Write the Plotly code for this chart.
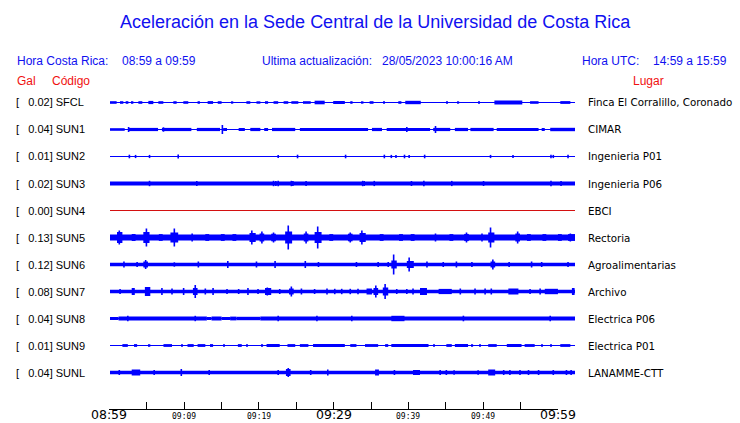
import plotly.graph_objects as go

# ---------------- data ----------------
CODES = ["SFCL", "SUN1", "SUN2", "SUN3", "SUN4", "SUN5", "SUN6", "SUN7", "SUN8", "SUN9", "SUNL"]
GAL = [0.02, 0.04, 0.01, 0.02, 0.00, 0.13, 0.12, 0.08, 0.04, 0.01, 0.04]
PLACES = ["Finca El Corralillo, Coronado", "CIMAR", "Ingenieria P01", "Ingenieria P06", "EBCI",
          "Rectoria", "Agroalimentarias", "Archivo", "Electrica P06", "Electrica P01", "LANAMME-CTT"]
TRACE_COLORS = ["blue"] * 4 + ["#d41010"] + ["blue"] * 6

# time axis (minutes after 08:59)
TICK_MIN = [0, 5, 10, 15, 20, 25, 30, 35, 40, 45, 50, 55, 60]
TICK_LABELS = ["08:59", "", "09:09", "", "09:19", "", "09:29", "", "09:39", "", "09:49", "", "09:59"]

# envelope segments per station: [start_min, end_min, half-amplitude (counts)]
SEG_SFCL = [[0, 0.86, 1.3], [1.29, 1.72, 1.3], [2.02, 2.37, 1.3], [2.71, 3.01, 1.3], [3.66, 4.17, 1.3],
            [4.95, 5.59, 1.6], [6.24, 6.88, 1.3], [8.17, 8.6, 1.3], [9.46, 10.1, 1.3], [11.3, 11.6, 1.3],
            [12.6, 13.3, 1.4], [13.9, 14.4, 1.3], [15.7, 15.9, 1.2], [17.6, 18.1, 1.3], [18.9, 19.4, 1.2],
            [20.0, 20.4, 1.3], [21.1, 21.7, 1.3], [22.4, 23.0, 1.3], [23.4, 24.3, 1.3], [24.9, 25.9, 1.3],
            [26.4, 27.7, 1.8], [28.8, 30.3, 1.5], [31.0, 31.3, 1.3], [32.5, 32.7, 1.2], [33.5, 34.0, 1.3],
            [35.3, 35.45, 1.2], [37.2, 37.6, 1.3], [38.1, 40.1, 1.7], [43.4, 43.6, 1.2], [44.9, 45.05, 1.2],
            [47.5, 47.65, 1.2], [49.6, 53.2, 2.0], [54.2, 55.3, 1.3], [58.1, 59.4, 1.4]]
SEG_SUN1 = [[0, 1.9, 1.3], [2.4, 6.2, 1.6], [6.7, 10.5, 1.6], [11.2, 14.2, 1.6], [14.6, 15.1, 1.5],
            [16.6, 17.4, 1.5], [18.1, 19.4, 1.6], [19.9, 20.4, 1.5], [20.9, 23.9, 1.6], [24.5, 33.3, 1.6],
            [33.8, 35.1, 1.6], [35.7, 41.3, 1.6], [41.7, 43.9, 1.6], [44.5, 46.2, 1.6], [46.5, 49.5, 1.6],
            [49.9, 55.3, 1.6], [55.7, 56.1, 1.5], [56.8, 60, 1.7]]
SEG_SUN2 = []
SEG_SUN3 = [[0, 60, 1.9]]
SEG_SUN4 = []
SEG_SUN5 = [[0, 60, 2.9], [0.9, 1.6, 5.5], [4.3, 5.1, 5.5], [7.8, 8.8, 5.0], [18.0, 18.8, 4.5],
            [19.3, 19.9, 4.0], [20.8, 21.4, 3.8], [22.6, 23.5, 6.0], [25.0, 25.6, 4.0], [26.4, 27.3, 5.5],
            [30.7, 31.3, 3.8], [32.2, 33.0, 4.5], [45.7, 46.3, 3.6], [48.8, 49.6, 5.0], [52.3, 52.9, 4.0],
            [2.8, 3.3, 3.5], [6.3, 6.8, 3.4], [12.3, 12.8, 3.4], [14.3, 14.8, 3.4], [15.8, 16.3, 3.4],
            [28.3, 28.8, 3.4], [34.8, 35.3, 3.4], [37.3, 37.8, 3.4], [38.8, 39.3, 3.4], [43.8, 44.3, 3.4],
            [53.8, 54.3, 3.4], [55.8, 56.3, 3.4], [57.8, 58.3, 3.4], [59.1, 60, 3.4]]
SEG_SUN6 = [[0, 60, 1.7], [36.3, 37.0, 4.0], [38.3, 39.2, 3.5], [4.3, 4.9, 3.0], [49.1, 49.7, 3.0]]
SEG_SUN7 = [[0, 60, 1.7], [2.8, 3.2, 3.5], [4.5, 5.2, 4.5], [10.7, 11.3, 3.5], [20.0, 20.8, 3.5],
            [23.1, 23.7, 3.0], [33.1, 33.8, 3.0], [34.0, 34.6, 3.5], [35.2, 35.9, 4.0], [40.0, 40.9, 3.5],
            [42.4, 44.1, 2.6], [51.4, 52.7, 3.0], [56.1, 57.8, 2.7], [59.6, 59.95, 3.5]]
SEG_SUN8 = [[0, 1.1, 1.5], [1.1, 12.5, 2.0], [12.5, 13.1, 1.5], [13.1, 14.4, 2.0], [14.4, 15.5, 1.5],
            [15.5, 16.3, 1.9], [16.3, 19.4, 1.7], [19.4, 60, 2.0], [36.3, 38.0, 2.7]]
SEG_SUN9 = [[1.6, 2.3, 1.4], [3.1, 3.5, 1.4], [5.0, 5.2, 1.3], [6.9, 8.0, 1.4], [9.2, 9.35, 1.3],
            [10.0, 10.8, 1.4], [11.3, 12.3, 1.4], [12.9, 13.3, 1.4], [14.6, 14.75, 1.3], [16.5, 17.0, 1.4],
            [17.6, 17.75, 1.3], [19.6, 19.75, 1.3], [20.2, 21.9, 1.5], [22.9, 23.9, 1.4], [24.5, 25.6, 1.4],
            [26.2, 30.3, 1.5], [31.0, 31.8, 1.4], [32.9, 34.6, 1.4], [35.5, 35.9, 1.4], [36.3, 41.1, 1.5],
            [41.7, 41.85, 1.3], [43.4, 44.1, 1.4], [44.5, 46.2, 1.5], [46.7, 46.85, 1.3], [47.7, 47.85, 1.3],
            [48.8, 49.9, 1.4], [51.2, 53.1, 1.5], [53.5, 54.8, 1.4], [55.7, 55.85, 1.3], [56.8, 56.95, 1.3],
            [58.1, 59.4, 1.4]]
SEG_SUNL = [[0, 60, 1.7], [2.8, 3.9, 3.0], [22.7, 23.3, 3.5], [34.2, 34.7, 3.0], [39.1, 40.0, 2.5],
            [48.8, 49.7, 3.0]]

# individual peaks per station: [minute, half-amplitude (counts)]
PK_SFCL = []
PK_SUN1 = [[14.5, 4.5], [42.0, 3.5], [38.3, 2.6], [2.4, 2.5], [6.9, 2.2]]
PK_SUN2 = [[2.5, 1.8], [3.3, 1.6], [5.1, 1.6], [8.8, 2.0], [21.7, 1.6], [24.2, 1.8], [30.4, 1.8],
           [35.4, 1.8], [36.3, 1.6], [36.9, 1.6], [38.0, 1.8], [38.6, 1.6], [40.6, 1.8], [49.1, 1.6],
           [52.0, 1.6], [56.9, 1.8], [57.2, 1.6], [59.1, 1.8]]
PK_SUN3 = [[5.1, 2.7], [11.2, 2.6], [21.1, 2.7], [21.4, 2.6], [21.7, 2.7], [23.4, 2.7], [23.6, 2.6],
           [25.3, 2.6], [32.6, 2.7], [32.8, 2.6], [34.1, 2.6], [38.9, 2.5], [40.5, 2.7], [44.1, 2.6],
           [48.2, 2.5], [56.9, 2.7], [58.2, 2.6]]
PK_SUN4 = []
PK_SUN5 = [[1.2, 7.0], [4.7, 9.0], [8.3, 9.0], [10.6, 4.0], [18.3, 7.0], [19.6, 6.0], [21.1, 5.0],
           [23.0, 12.0], [25.3, 6.0], [26.8, 11.0], [31.0, 5.0], [32.5, 7.0], [42.0, 4.0], [46.0, 5.0],
           [48.0, 4.0], [49.1, 10.0], [52.6, 6.0], [59.4, 4.0]]
PK_SUN6 = [[1.8, 3.0], [3.5, 2.5], [4.6, 4.5], [8.3, 2.2], [11.4, 3.0], [15.2, 3.5], [18.9, 3.0],
           [21.3, 3.5], [25.2, 3.5], [26.9, 2.5], [31.8, 2.5], [34.6, 2.5], [35.9, 2.5], [36.6, 10.0],
           [38.6, 7.0], [40.9, 3.0], [43.0, 2.5], [44.7, 3.0], [46.7, 2.5], [49.4, 5.0], [51.5, 2.5],
           [54.4, 3.0], [55.7, 2.5], [59.1, 2.5]]
PK_SUN7 = [[1.3, 2.5], [6.7, 3.5], [8.0, 3.0], [9.5, 3.5], [11.0, 6.5], [12.3, 3.0], [13.3, 3.5],
           [15.1, 2.5], [16.6, 2.5], [17.8, 3.5], [19.1, 2.5], [20.3, 4.0], [21.9, 2.5], [23.4, 5.0],
           [24.7, 3.0], [26.4, 2.5], [28.0, 3.0], [29.0, 2.7], [29.9, 2.7], [31.0, 2.7], [32.0, 2.7],
           [34.3, 6.0], [35.5, 7.5], [37.0, 2.5], [38.3, 2.5], [39.1, 3.0], [45.2, 3.0], [47.1, 3.0],
           [48.4, 3.0], [49.2, 3.0], [54.2, 2.5], [55.5, 3.0]]
PK_SUN8 = [[2.3, 2.7], [11.0, 2.7], [21.7, 2.7], [26.7, 2.8], [31.2, 2.8], [45.6, 2.8], [56.8, 2.8]]
PK_SUN9 = []
PK_SUNL = [[1.2, 2.5], [5.7, 2.5], [9.2, 3.5], [12.8, 2.5], [21.7, 2.5], [23.0, 4.5], [25.9, 2.5],
           [28.1, 3.0], [36.7, 2.5], [42.6, 2.5], [43.4, 2.5], [44.4, 2.2], [47.5, 2.2], [50.8, 2.5],
           [51.6, 2.5], [52.9, 2.5], [54.0, 2.5], [55.3, 2.5], [57.2, 2.5], [58.9, 2.5], [59.5, 2.5]]

SEGMENTS = [SEG_SFCL, SEG_SUN1, SEG_SUN2, SEG_SUN3, SEG_SUN4, SEG_SUN5,
            SEG_SUN6, SEG_SUN7, SEG_SUN8, SEG_SUN9, SEG_SUNL]
PEAKS = [PK_SFCL, PK_SUN1, PK_SUN2, PK_SUN3, PK_SUN4, PK_SUN5,
         PK_SUN6, PK_SUN7, PK_SUN8, PK_SUN9, PK_SUNL]

COUNTS_PER_ROW = 27.0  # amplitude counts corresponding to one row of spacing

# ---------------- figure ----------------
W, H = 740, 423
fig = go.Figure()

for i, code in enumerate(CODES):
    col = TRACE_COLORS[i]
    # baseline
    fig.add_trace(go.Scatter(x=[0, 60], y=[i, i], mode="lines",
                             line=dict(color=col, width=1), hoverinfo="skip", showlegend=False))
    # envelope blocks
    segs = SEGMENTS[i]
    if segs:
        fig.add_trace(go.Bar(
            x=[(s[0] + s[1]) / 2 for s in segs],
            width=[s[1] - s[0] for s in segs],
            base=[i - s[2] / COUNTS_PER_ROW for s in segs],
            y=[2 * s[2] / COUNTS_PER_ROW for s in segs],
            marker=dict(color=col, line=dict(width=0)),
            hoverinfo="skip", showlegend=False))
    # peaks
    pk = PEAKS[i]
    if pk:
        xs, ys = [], []
        for t, a in pk:
            xs += [t, t, None]
            ys += [i - a / COUNTS_PER_ROW, i + a / COUNTS_PER_ROW, None]
        fig.add_trace(go.Scatter(x=xs, y=ys, mode="lines", line=dict(color=col, width=1.6),
                                 hoverinfo="skip", showlegend=False))

# dummy trace to register the time axis
fig.add_trace(go.Scatter(x=[None], y=[None], xaxis="x2", yaxis="y", showlegend=False))

row0_px = 102.5
row_px = 27.0
y_top = -row0_px / row_px
y_bot = (H - row0_px) / row_px

fig.update_layout(
    width=W, height=H,
    margin=dict(l=0, r=0, t=0, b=0),
    paper_bgcolor="white", plot_bgcolor="rgba(0,0,0,0)",
    barmode="overlay",
    showlegend=False,
    xaxis=dict(domain=[110 / W, 575 / W], range=[0, 60], visible=False, fixedrange=True),
    yaxis=dict(domain=[0, 1], range=[y_bot, y_top], visible=False, fixedrange=True),
    xaxis2=dict(domain=[109.3 / W, 558 / W], range=[0, 60], anchor="free", position=(H - 408.5) / H,
                showline=True, linecolor="black", linewidth=1, showgrid=False, zeroline=False,
                tickmode="array", tickvals=TICK_MIN, ticks="inside", ticklen=7, tickcolor="black",
                tickwidth=1, showticklabels=False, fixedrange=True),
)

ann = []
blue = "#1010f0"
red = "#f01010"
SANS = "Liberation Sans, Arial, sans-serif"
DEJ = "DejaVu Sans, sans-serif"


def txt(x, y, text, size, color, family=SANS, xanchor="left"):
    ann.append(dict(xref="paper", yref="paper", x=x / W, y=1 - y / H, text=text, showarrow=False,
                    xanchor=xanchor, yanchor="middle", font=dict(size=size, color=color, family=family)))


txt(375, 22, "Aceleración en la Sede Central de la Universidad de Costa Rica", 18, blue, xanchor="center")
txt(15, 61, "Hora Costa Rica:", 12, blue)
txt(120, 61, "08:59 a 09:59", 12, blue)
txt(260, 61, "Ultima actualización:", 12, blue)
txt(380, 61, "28/05/2023 10:00:16 AM", 12, blue)
txt(580, 61, "Hora UTC:", 12, blue)
txt(651, 61, "14:59 a 15:59", 12, blue)
txt(15, 81, "Gal", 12, red)
txt(50, 81, "Código", 12, red)
txt(631, 81, "Lugar", 12, red)

for i, code in enumerate(CODES):
    yc = row0_px + row_px * i
    txt(14, yc, "[\u00a0\u00a0\u00a0" + f"{GAL[i]:.2f}] {code}", 11, "black")
    txt(586, yc, PLACES[i], 10.3, "black", family=DEJ)

for t, lab in zip(TICK_MIN, TICK_LABELS):
    if not lab:
        continue
    big = lab in ("08:59", "09:29", "09:59")
    if big:
        ann.append(dict(xref="x2", yref="paper", x=t, y=0, text=lab, borderpad=0,
                        showarrow=False, xanchor="center", yanchor="bottom",
                        font=dict(size=12.5, color="black", family=DEJ)))
    else:
        ann.append(dict(xref="x2", yref="paper", x=t, y=1 - 416 / H, text=lab, borderpad=0,
                        showarrow=False, xanchor="center", yanchor="middle",
                        font=dict(size=8, color="black", family="DejaVu Sans Mono, monospace")))

fig.update_layout(annotations=ann)
fig.write_html("out.html", config={"displayModeBar": False},
               post_script="document.body.style.margin='0';document.body.style.overflow='hidden';")
